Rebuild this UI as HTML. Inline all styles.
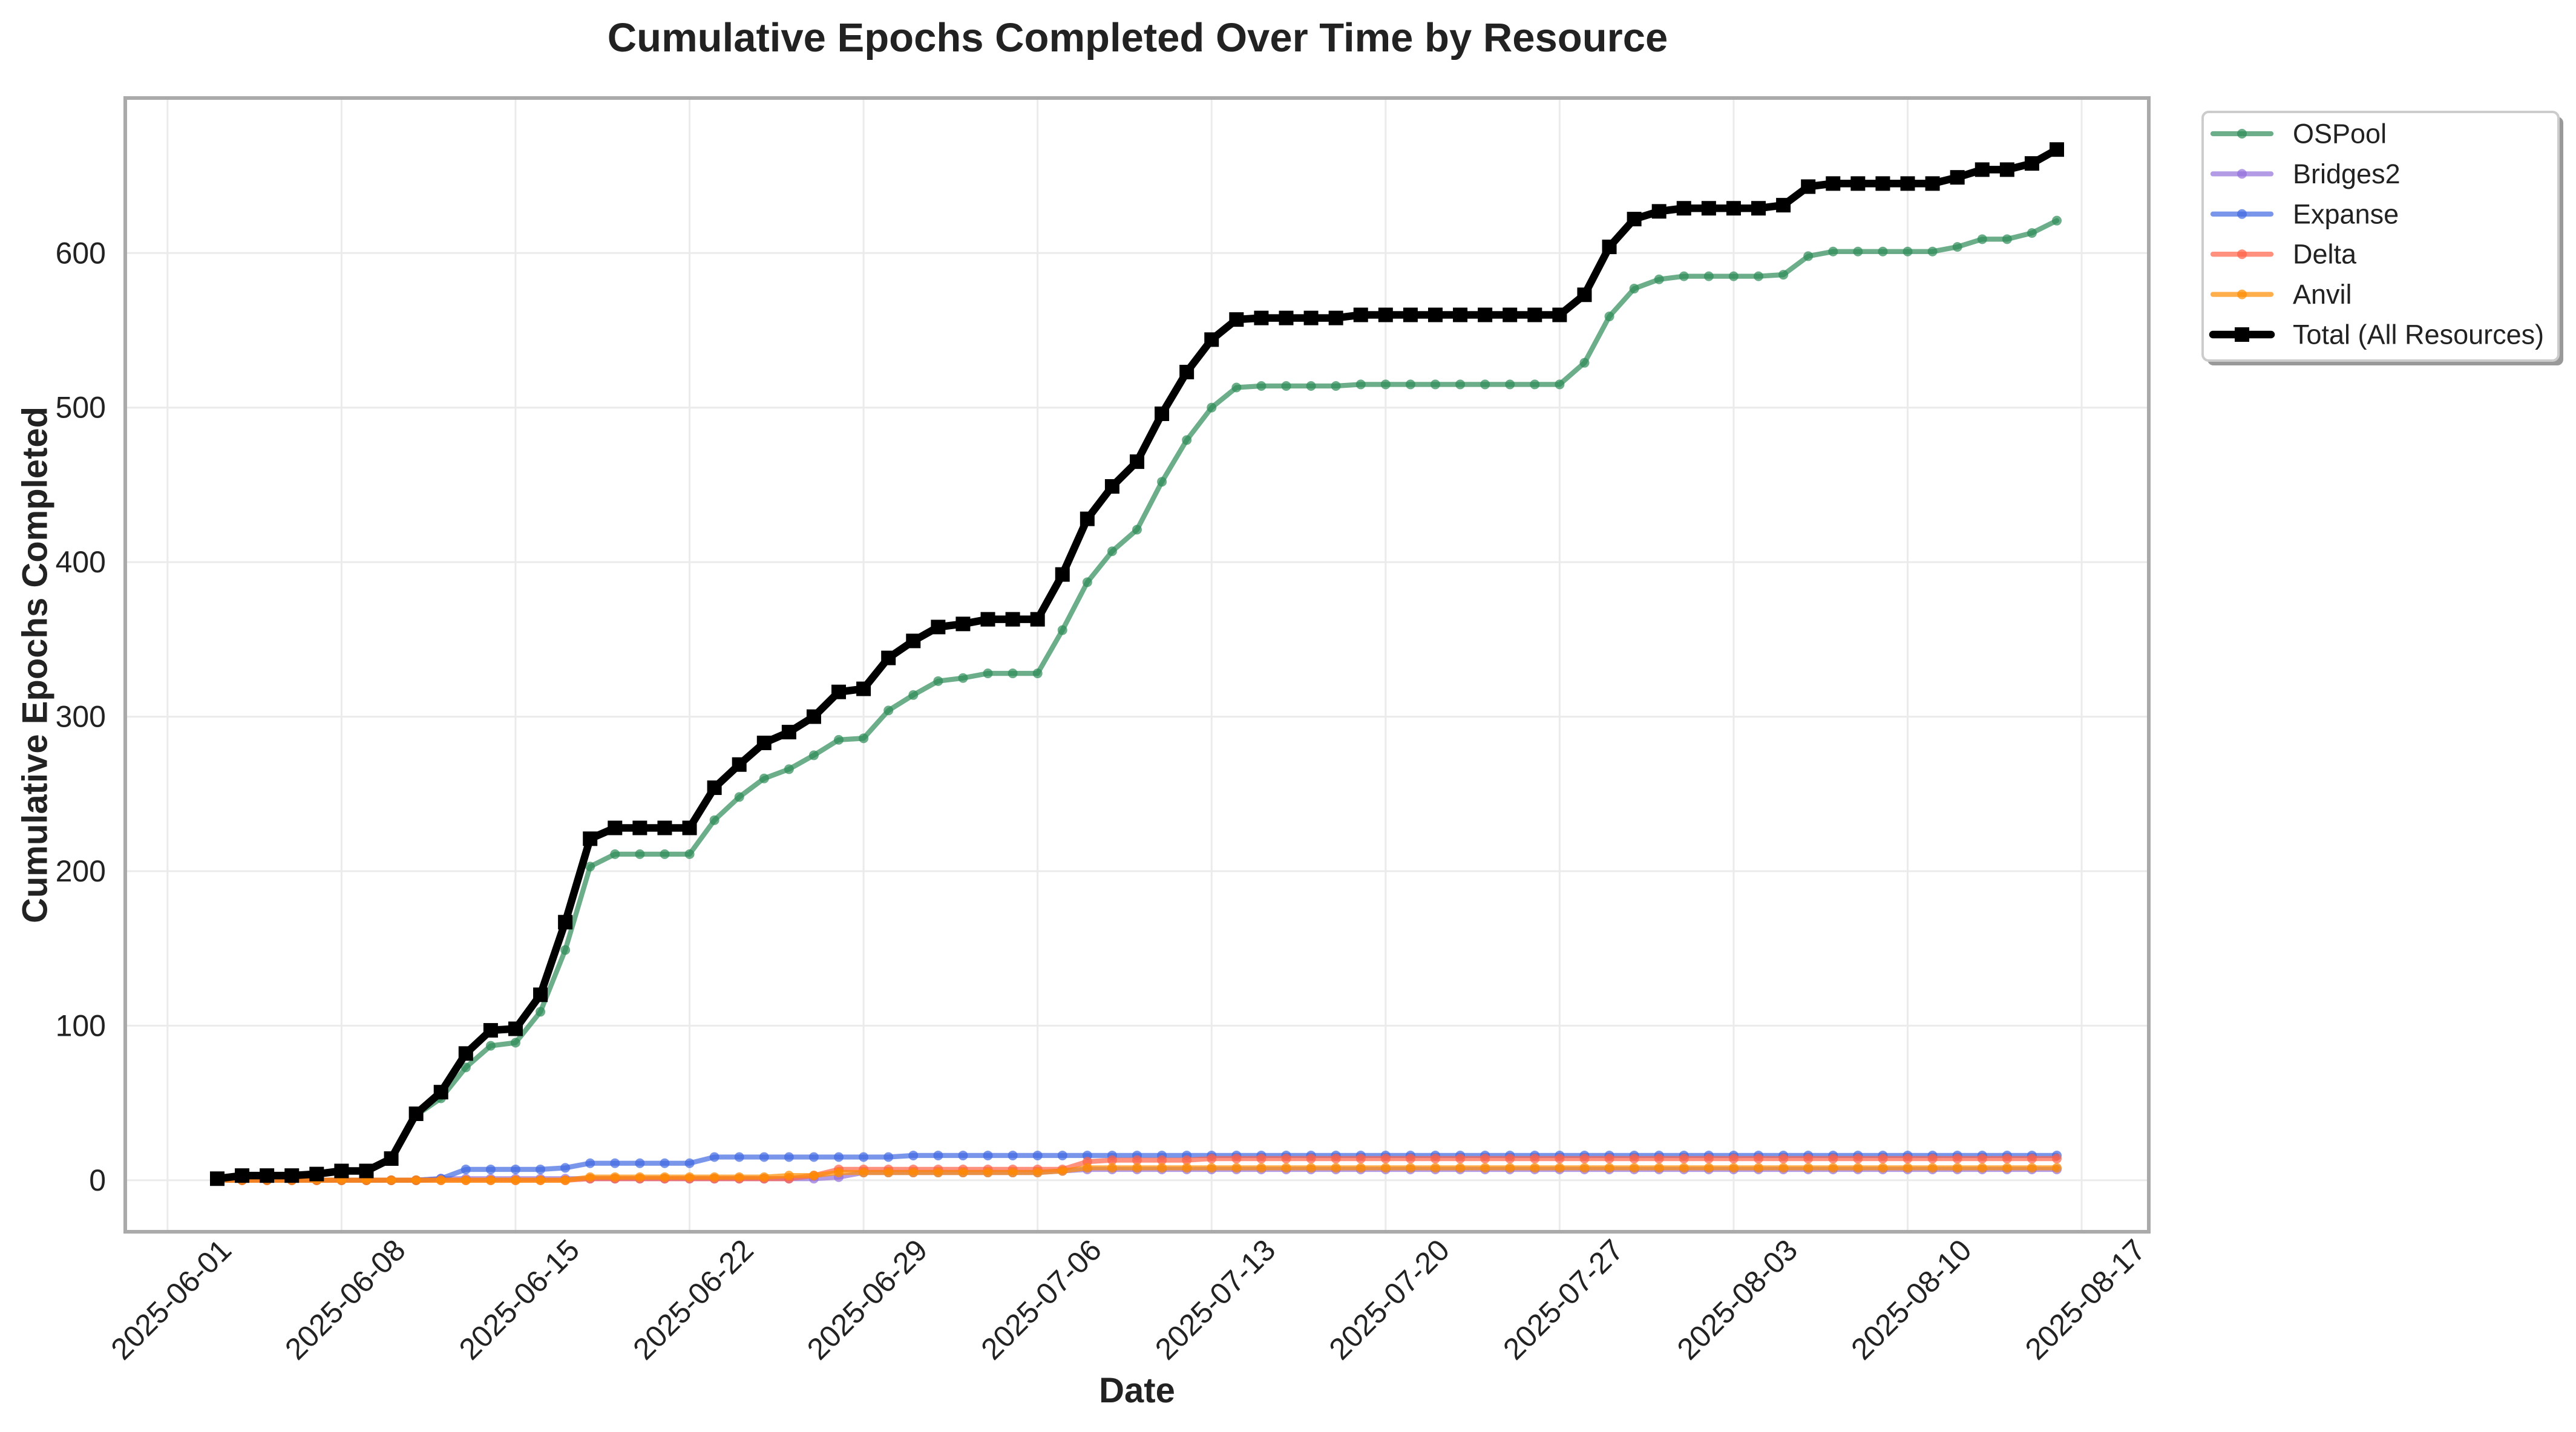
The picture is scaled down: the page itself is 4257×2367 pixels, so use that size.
<!DOCTYPE html>
<html><head><meta charset="utf-8">
<style>
html,body{margin:0;padding:0;background:#fff;}
svg text{font-family:"Liberation Sans",Arial,sans-serif;fill:#222;}
</style></head>
<body>
<svg id="chart" width="4257" height="2362" viewBox="0 0 4257 2362" xmlns="http://www.w3.org/2000/svg">
<rect x="0" y="0" width="4257" height="2362" fill="#fff"/>
<text x="1880" y="85" font-size="67" font-weight="bold" text-anchor="middle">Cumulative Epochs Completed Over Time by Resource</text>
<g id="grid"></g>
<g id="series"></g>
<rect x="207" y="162" width="3344" height="1874" fill="none" stroke="#aaa" stroke-width="6"/>
<g id="ticks"></g>
<text transform="translate(58,1099) rotate(-90)" font-size="58" font-weight="bold" text-anchor="middle" dominant-baseline="central">Cumulative Epochs Completed</text>
<text x="1879" y="2318" font-size="58" font-weight="bold" text-anchor="middle">Date</text>
<g id="legend"></g>
</svg>
<script>
const startDate = "2025-06-03";
const ospool   = [1,3,3,3,4,6,6,14,42,53,73,87,89,109,149,203,211,211,211,211,233,248,260,266,275,285,286,304,314,323,325,328,328,328,356,387,407,421,452,479,500,513,514,514,514,514,515,515,515,515,515,515,515,515,515,529,559,577,583,585,585,585,585,586,598,601,601,601,601,601,604,609,609,613,621];
const bridges2 = [0,0,0,0,0,0,0,0,0,1,1,1,1,1,1,1,1,1,1,1,1,1,1,1,1,2,5,5,5,5,5,5,5,5,6,7,7,7,7,7,7,7,7,7,7,7,7,7,7,7,7,7,7,7,7,7,7,7,7,7,7,7,7,7,7,7,7,7,7,7,7,7,7,7,7];
const expanse  = [0,0,0,0,0,0,0,0,0,1,7,7,7,7,8,11,11,11,11,11,15,15,15,15,15,15,15,15,16,16,16,16,16,16,16,16,16,16,16,16,16,16,16,16,16,16,16,16,16,16,16,16,16,16,16,16,16,16,16,16,16,16,16,16,16,16,16,16,16,16,16,16,16,16,16];
const delta    = [0,0,0,0,0,0,0,0,0,0,0,0,0,0,0,1,1,1,1,1,1,1,1,1,3,7,7,7,7,7,7,7,7,7,7,12,13,13,13,13,14,14,14,14,14,14,14,14,14,14,14,14,14,14,14,14,14,14,14,14,14,14,14,14,14,14,14,14,14,14,14,14,14,14,14];
const anvil    = [0,0,0,0,0,0,0,0,0,0,0,0,0,0,0,2,2,2,2,2,2,2,2,3,3,5,5,5,5,5,5,5,5,5,6,8,8,8,8,8,8,8,8,8,8,8,8,8,8,8,8,8,8,8,8,8,8,8,8,8,8,8,8,8,8,8,8,8,8,8,8,8,8,8,8];
const total    = [1,3,3,3,4,6,6,14,43,57,82,97,98,120,167,221,228,228,228,228,254,269,283,290,300,316,318,338,349,358,360,363,363,363,392,428,449,465,496,523,544,557,558,558,558,558,560,560,560,560,560,560,560,560,560,573,604,622,627,629,629,629,629,631,643,645,645,645,645,645,649,654,654,658,667];
const yTicks = [0,100,200,300,400,500,600];
const xTickLabels = ["2025-06-01","2025-06-08","2025-06-15","2025-06-22","2025-06-29","2025-07-06","2025-07-13","2025-07-20","2025-07-27","2025-08-03","2025-08-10","2025-08-17"];
const seriesNames = ["OSPool","Bridges2","Expanse","Delta","Anvil","Total (All Resources)"];

const NS="http://www.w3.org/2000/svg";
const L=207,R=3551,T=162,B=2036;
const DAY=86400000;
const t0=Date.parse(startDate);
const n=total.length;
const xMin=t0-0.05*(n-1)*DAY, xMax=t0+(n-1)*DAY+0.05*(n-1)*DAY;
let yMaxData=0; total.forEach(v=>{if(v>yMaxData)yMaxData=v;});
const yMin=-0.05*yMaxData, yMax=yMaxData*1.05;
function xs(t){return L+(t-xMin)/(xMax-xMin)*(R-L);}
function ys(v){return B-(v-yMin)/(yMax-yMin)*(B-T);}
function mk(tag,attrs,parent){const e=document.createElementNS(NS,tag);for(const k in attrs)e.setAttribute(k,attrs[k]);parent.appendChild(e);return e;}

const grid=document.getElementById('grid'), ticks=document.getElementById('ticks');
yTicks.forEach(v=>{
  const y=ys(v);
  const g=mk('line',{x1:L,x2:R,y1:y,y2:y,stroke:'#ebebeb','stroke-width':3},grid);
  
  
  const t=mk('text',{x:175,y:y,'font-size':50,'text-anchor':'end','dominant-baseline':'central'},ticks);
  t.textContent=String(v);
  
  
});
xTickLabels.forEach(s=>{
  const x=xs(Date.parse(s));
  const g=mk('line',{x1:x,x2:x,y1:T,y2:B,stroke:'#ebebeb','stroke-width':3},grid);
  
  
  const t=mk('text',{transform:`translate(${x+6},2148) rotate(-45)`,'font-size':50,'text-anchor':'middle','dominant-baseline':'central'},ticks);
  t.textContent=s;
  
  
});

const colors=['#2E8B57','#9370DB','#4169E1','#FF6347','#FF8C00','#000000'];
const data=[ospool,bridges2,expanse,delta,anvil,total];
const sg=document.getElementById('series');
data.forEach((arr,si)=>{
  const g=mk('g',{},sg);
  
  
  const isTotal=si===5;
  const pts=arr.map((v,i)=>[xs(t0+i*DAY),ys(v)]);
  const pl=mk('polyline',{points:pts.map(p=>p.join(',')).join(' '),fill:'none',stroke:colors[si],'stroke-width':isTotal?12.5:8.3,'stroke-opacity':isTotal?1:0.7,'stroke-linejoin':'round','stroke-linecap':'round'},g);
  
  
  pts.forEach(p=>{
    let m;
    if(isTotal){m=mk('rect',{x:p[0]-12,y:p[1]-12,width:24,height:24,fill:'#000'},g);}
    else{m=mk('circle',{cx:p[0],cy:p[1],r:8,fill:colors[si],'fill-opacity':0.7},g);}
    
    
  });
});

const lg=document.getElementById('legend');
mk('rect',{x:3648,y:193,width:588,height:411,rx:10,fill:'#999'},lg);
const fr=mk('rect',{x:3640,y:185,width:588,height:411,rx:10,fill:'#fff',stroke:'#cccccc','stroke-width':4},lg);


seriesNames.forEach((nm,i)=>{
  const y=221+i*66.4;
  const isTotal=i===5;
  const e=mk('g',{},lg);
  
  
  mk('line',{x1:3657,x2:3753,y1:y,y2:y,stroke:colors[i],'stroke-width':isTotal?12.5:8.3,'stroke-opacity':isTotal?1:0.7,'stroke-linecap':'round'},e);
  if(isTotal) mk('rect',{x:3693,y:y-12,width:24,height:24,fill:'#000'},e);
  else mk('circle',{cx:3705,cy:y,r:8,fill:colors[i],'fill-opacity':0.7},e);
  const t=mk('text',{x:3789,y:y,'font-size':45,'dominant-baseline':'central'},e);
  t.textContent=nm;
});
</script>
</body></html>
